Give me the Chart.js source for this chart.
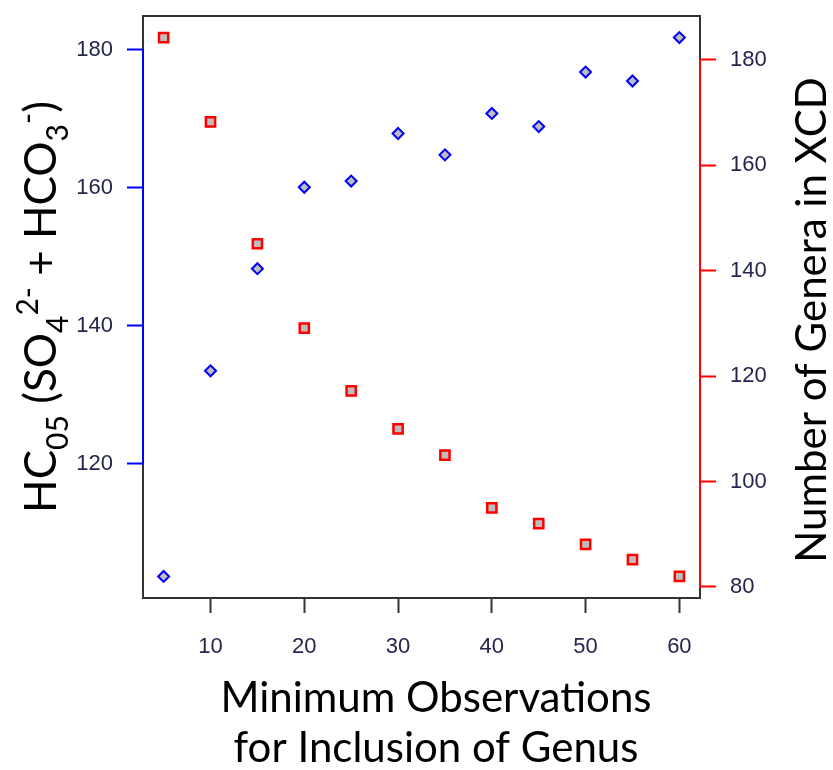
<!DOCTYPE html>
<html>
<head>
<meta charset="utf-8">
<script src="https://cdn.jsdelivr.net/npm/chart.js@4.4.1/dist/chart.umd.min.js"></script>
<style>
  html, body { margin: 0; padding: 0; background: #fff; }
</style>
</head>
<body>
<canvas id="chart" width="833" height="770"></canvas>
<script>
// Minimum observations for inclusion of a genus (x)
const minObs = [5, 10, 15, 20, 25, 30, 35, 40, 45, 50, 55, 60];
// HC05 (left axis, blue diamonds)
const hc05 = [103.7, 133.5, 148.3, 160.1, 161.0, 167.9, 164.8, 170.8, 168.9, 176.8, 175.5, 181.8];
// Number of genera in XCD (right axis, red squares)
const genera = [184.2, 168.2, 145.1, 129.1, 117.2, 110.0, 105.0, 95.0, 92.0, 88.1, 85.2, 82.0];

const xTicks = [10, 20, 30, 40, 50, 60];
const leftTicks = [120, 140, 160, 180];
const rightTicks = [80, 100, 120, 140, 160, 180];

const tickFont = { family: '"Liberation Sans", Arial, sans-serif', size: 22 };
const tickColor = '#25254d';
const titleFamily = 'Lato, "Noto Sans", sans-serif';

// base R pads the data range by 4% on each side
function padRange(vals) {
  const lo = Math.min(...vals), hi = Math.max(...vals), d = (hi - lo) * 0.04;
  return [lo - d, hi + d];
}
const xr = padRange(minObs), lr = padRange(hc05), rr = padRange(genera);

function fixTicks(list) {
  return function (scale) { scale.ticks = list.map(v => ({ value: v })); };
}

// draws text with sub/superscripts, centred on (cx, cy)
function drawRich(ctx, parts, cx, cy, size) {
  const fontFor = k => (k ? Math.round(size * 0.68) : size) + 'px ' + titleFamily;
  let w = 0;
  parts.forEach(([t, k]) => { ctx.font = fontFor(k); w += ctx.measureText(t).width; });
  let x = cx - w / 2;
  parts.forEach(([t, k]) => {
    ctx.font = fontFor(k);
    const dy = k === 'sub' ? size * 0.28 : k === 'sup' ? -size * 0.42 : 0;
    ctx.fillText(t, x, cy + dy);
    x += ctx.measureText(t).width;
  });
}

const framePlugin = {
  id: 'frame',
  beforeDatasetsDraw(chart) {
    const { ctx, chartArea: a, scales } = chart;
    ctx.save();
    ctx.lineWidth = 2;
    ctx.strokeStyle = '#333';
    ctx.strokeRect(a.left, a.top, a.right - a.left, a.bottom - a.top);
    // coloured axis lines run from first to last tick
    ctx.strokeStyle = '#0000ff';
    ctx.beginPath();
    ctx.moveTo(a.left, scales.yL.getPixelForValue(leftTicks[0]) + 1);
    ctx.lineTo(a.left, scales.yL.getPixelForValue(leftTicks[leftTicks.length - 1]) - 1);
    ctx.stroke();
    ctx.strokeStyle = '#ff0000';
    ctx.beginPath();
    ctx.moveTo(a.right, scales.yR.getPixelForValue(rightTicks[0]) + 1);
    ctx.lineTo(a.right, scales.yR.getPixelForValue(rightTicks[rightTicks.length - 1]) - 1);
    ctx.stroke();
    ctx.restore();
  },
  afterDraw(chart) {
    const { ctx, chartArea: a } = chart;
    const midY = (a.top + a.bottom) / 2;
    ctx.save();
    ctx.fillStyle = '#000';
    ctx.textBaseline = 'alphabetic';

    // x title, two lines
    ctx.font = '42px ' + titleFamily;
    ctx.textAlign = 'center';
    ctx.fillText('Minimum Observations', 436, 712);
    ctx.fillText('for Inclusion of Genus', 436, 762);

    // left title
    ctx.textAlign = 'left';
    ctx.save();
    ctx.translate(56, midY);
    ctx.rotate(-Math.PI / 2);
    drawRich(ctx, [['HC', ''], ['05', 'sub'], [' (SO', ''], ['4', 'sub'], ['2-', 'sup'],
      [' + HCO', ''], ['3', 'sub'], ['-', 'sup'], [')', '']], 0, 0, 44);
    ctx.restore();

    // right title
    ctx.save();
    ctx.translate(826, 320);
    ctx.rotate(-Math.PI / 2);
    ctx.textAlign = 'center';
    ctx.font = '42px ' + titleFamily;
    ctx.fillText('Number of Genera in XCD', 0, 0);
    ctx.restore();
    ctx.restore();
  }
};

// keep the plot box where it is, whatever the label overhang
function noOverhang(size, prop) {
  return function (s) { s[prop] = size; s.paddingTop = 0; s.paddingBottom = 0; s.paddingLeft = 0; s.paddingRight = 0; };
}

new Chart(document.getElementById('chart'), {
  type: 'scatter',
  data: {
    datasets: [
      {
        label: 'HC05',
        data: minObs.map((x, i) => ({ x: x, y: hc05[i] })),
        yAxisID: 'yL',
        pointStyle: 'rectRot',
        pointRadius: 5.5,
        pointBorderWidth: 2,
        borderColor: '#0000ff',
        backgroundColor: '#bebebe'
      },
      {
        label: 'Genera',
        data: minObs.map((x, i) => ({ x: x, y: genera[i] })),
        yAxisID: 'yR',
        pointStyle: 'rect',
        pointRadius: 6.5,
        pointBorderWidth: 2.5,
        borderColor: '#ff0000',
        backgroundColor: '#bebebe'
      }
    ]
  },
  options: {
    responsive: false,
    animation: false,
    layout: { padding: { top: 16, left: 0, right: 0, bottom: 0 } },
    plugins: { legend: { display: false }, tooltip: { enabled: false } },
    scales: {
      x: {
        type: 'linear',
        position: 'bottom',
        min: xr[0],
        max: xr[1],
        afterBuildTicks: fixTicks(xTicks),
        afterFit: noOverhang(172, 'height'),
        border: { display: false },
        grid: { drawOnChartArea: false, tickLength: 15, tickWidth: 2, tickColor: '#333' },
        ticks: { font: tickFont, color: tickColor, padding: 21, maxRotation: 0 }
      },
      yL: {
        type: 'linear',
        position: 'left',
        min: lr[0],
        max: lr[1],
        afterBuildTicks: fixTicks(leftTicks),
        afterFit: noOverhang(143, 'width'),
        border: { display: false },
        grid: { drawOnChartArea: false, tickLength: 16, tickWidth: 2, tickColor: '#0000ff' },
        ticks: { font: tickFont, color: tickColor, padding: 14 }
      },
      yR: {
        type: 'linear',
        position: 'right',
        min: rr[0],
        max: rr[1],
        afterBuildTicks: fixTicks(rightTicks),
        afterFit: noOverhang(133, 'width'),
        border: { display: false },
        grid: { drawOnChartArea: false, tickLength: 16, tickWidth: 2, tickColor: '#ff0000' },
        ticks: { font: tickFont, color: tickColor, padding: 14 }
      }
    }
  },
  plugins: [framePlugin]
});
</script>
</body>
</html>
